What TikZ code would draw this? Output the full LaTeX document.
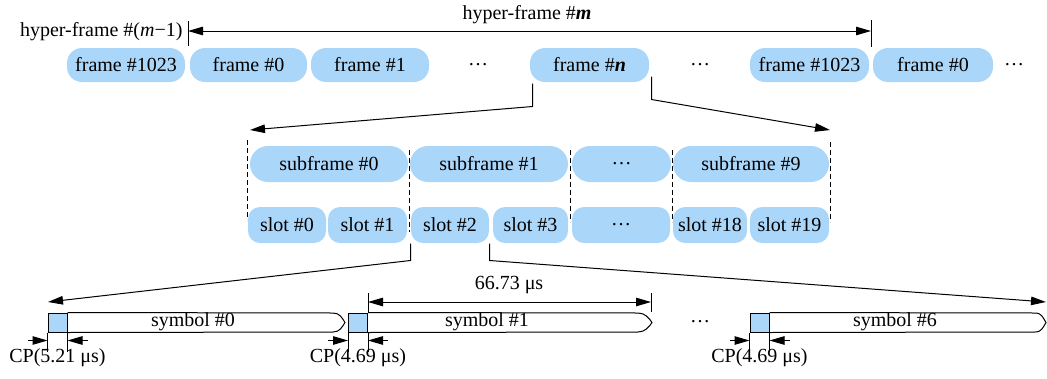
\documentclass[tikz,border=0pt]{standalone}
\usepackage{fontspec}
\setmainfont{Liberation Serif}
\usetikzlibrary{calc}
\usetikzlibrary{arrows.meta}
\usetikzlibrary{positioning}
\definecolor{frameblue}{RGB}{170,214,250}
\tikzstyle{blk}=[fill=frameblue,rounded corners=15pt,minimum height=34pt,inner sep=0pt,font=\fontsize{20}{22}\selectfont]
\tikzstyle{cpbox}=[draw,fill=frameblue,minimum width=19pt,minimum height=19pt,inner sep=0pt]
\tikzstyle{lbl}=[inner sep=0pt,font=\fontsize{20}{22}\selectfont]
\tikzstyle{lnk}=[->,>={Triangle[length=15pt,width=8.5pt]}]
\tikzstyle{dim}=[<->,>={Triangle[length=15pt,width=8.5pt]}]
\tikzstyle{sep}=[dash pattern=on 5pt off 3pt]

\begin{document}
\begin{tikzpicture}[x=1pt,y=-1pt,line width=1pt]
\useasboundingbox (0,0) rectangle (1047,378);

% hyper-frame span
\coordinate (hA) at (188,31);
\coordinate (hB) at (871,31);
\draw ($(hA)+(0,-10)$) -- ($(hA)+(0,15)$);
\draw ($(hB)+(0,-11)$) -- ($(hB)+(0,16)$);
\draw[dim] (hA) -- (hB);
\node[lbl] (hm) at (527,15) {hyper-frame \#\textbf{\textit{m}}};
\node[lbl,anchor=east] (hmprev) at (183,32) {hyper-frame \#(\textit{m}−1)};

% frames
\node[blk,minimum width=118pt] (fa) at (126,65) {frame \#1023};
\node[blk,minimum width=117pt] (fb) at (248.5,65) {frame \#0};
\node[blk,minimum width=118pt] (fc) at (370,65) {frame \#1};
\node[lbl] (da) at (478,65) {\ldots};
\node[blk,minimum width=119pt] (fn) at (589.5,65) {frame \#\textbf{\textit{n}}};
\node[lbl] (db) at (700,65) {\ldots};
\node[blk,minimum width=119pt] (fd) at (809.5,65) {frame \#1023};
\node[blk,minimum width=120pt] (fe) at (933,65) {frame \#0};
\node[lbl] (dc) at (1014,65) {\ldots};

% zoom into frame n
\coordinate (sfL) at (250,130);
\coordinate (sfR) at (830,130);
\draw[lnk] ($(fn.south west)+(3,1)$) -- ++(0,23) -- (sfL);
\draw[lnk] ($(fn.south east)+(2,-6)$) -- ++(0,23) -- (sfR);

% boundaries
\draw[sep] (247,140) -- (247,220);
\draw[sep] (409,150) -- (409,232);
\draw[sep] (570,150) -- (570,222);
\draw[sep] (672,150) -- (672,222);
\draw[sep] (830,142) -- (830,222);

% subframes
\node[blk,minimum width=158pt,minimum height=36pt,rounded corners=18pt] (sf0) at (329,164) {subframe \#0};
\node[blk,minimum width=158pt,minimum height=36pt,rounded corners=18pt] (sf1) at (489,164) {subframe \#1};
\node[blk,minimum width=99pt,minimum height=36pt,rounded corners=18pt] (sfd) at (621.5,164) {\ldots};
\node[blk,minimum width=156pt,minimum height=36pt,rounded corners=18pt] (sf9) at (751,164) {subframe \#9};

% slots
\node[blk,minimum width=78pt,minimum height=36pt,rounded corners=12pt] (s0) at (287,225) {slot \#0};
\node[blk,minimum width=79pt,minimum height=36pt,rounded corners=12pt] (s1) at (367.5,225) {slot \#1};
\node[blk,minimum width=78pt,minimum height=36pt,rounded corners=12pt] (s2) at (450,225) {slot \#2};
\node[blk,minimum width=75pt,minimum height=36pt,rounded corners=12pt] (s3) at (530.5,225) {slot \#3};
\node[blk,minimum width=98pt,minimum height=36pt,rounded corners=12pt] (sd) at (621,225) {\ldots};
\node[blk,minimum width=74pt,minimum height=36pt,rounded corners=12pt] (s18) at (710,225) {slot \#18};
\node[blk,minimum width=79pt,minimum height=36pt,rounded corners=12pt] (s19) at (789.5,225) {slot \#19};

% zoom into slot 2
\coordinate (syL) at (48,302);
\coordinate (syR) at (1046,302);
\draw[lnk] (s2.south west) -- ++(0,17) -- (syL);
\draw[lnk] (s2.south east) -- ++(0,17) -- (syR);

% symbols
\foreach \n/\cx/\ex/\tx/\lx/\cpv in {0/57.5/333/345/193/5.21,1/358/638/652/487/4.69,6/759.5/1035/1046/895/4.69}{
  \node[cpbox] (cp\n) at (\cx,322.5) {};
  \draw (cp\n.north east) -- (\ex,313) .. controls (\ex+7,313) and (\tx-3,318) .. (\tx,322.5)
        .. controls (\tx-3,327) and (\ex+7,332) .. (\ex,332) -- (cp\n.south east);
  \node[lbl] (sl\n) at (\lx,322) {symbol \#\n};
  \draw (cp\n.south west) -- ++(0,19);
  \draw (cp\n.south east) -- ++(0,19);
  \draw[lnk] ($(cp\n.south west)+(-20,8)$) -- ($(cp\n.south west)+(0,8)$);
  \draw[lnk] ($(cp\n.south east)+(20,8)$) -- ($(cp\n.south east)+(0,8)$);
  \node[lbl] (cpl\n) at ($(cp\n.south)+(0,25)$) {CP(\cpv\ μs)};
}
\node[lbl] (ds) at (700,322) {\ldots};

% symbol duration
\coordinate (tA) at (368,302);
\coordinate (tB) at (651,302);
\draw (cp1.north east) -- ++(0,-20);
\draw ($(tB)+(0,-9)$) -- ($(tB)+(0,10)$);
\draw[dim] (tA) -- (tB);
\node[lbl] (tl) at (509,285) {66.73 μs};
\end{tikzpicture}
\end{document}
